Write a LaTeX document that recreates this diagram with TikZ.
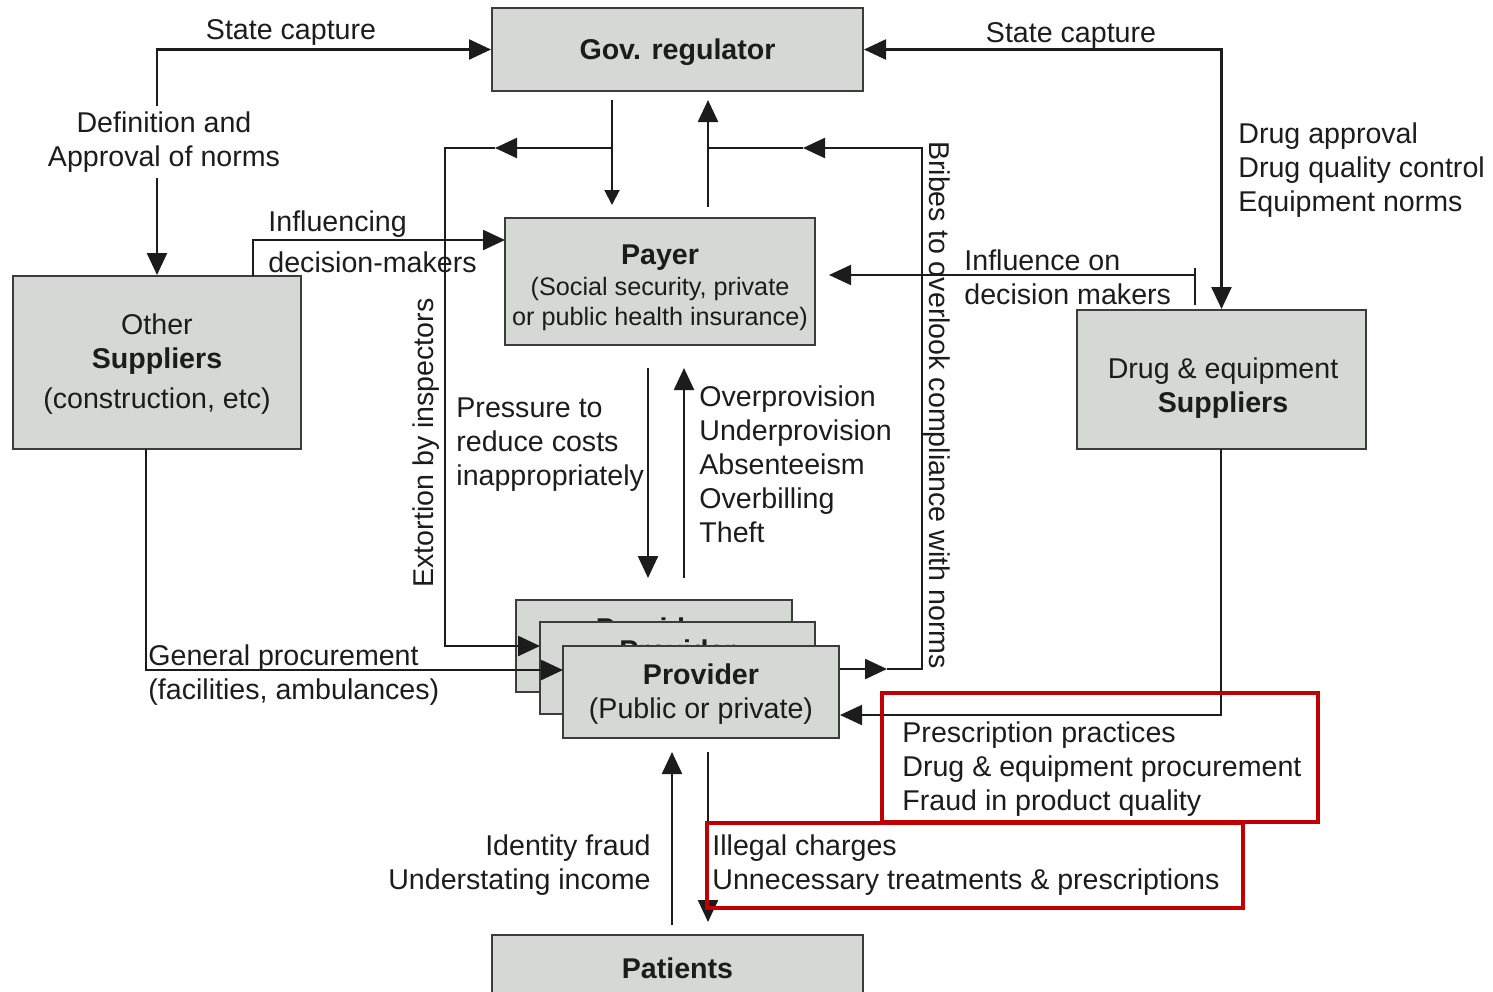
\documentclass[tikz,border=0pt]{standalone}
\usepackage{fontspec}
\setmainfont{Liberation Sans}
\usetikzlibrary{arrows.meta}
\definecolor{boxfill}{RGB}{214,216,213}
\definecolor{boxdraw}{RGB}{60,60,60}
\definecolor{ink}{RGB}{28,28,28}
\definecolor{redline}{RGB}{192,0,0}
\begin{document}
\begin{tikzpicture}[x=0.5pt,y=-0.5pt,
  font=\fontsize{14.3}{17}\selectfont, text=ink,
  box/.style={draw=boxdraw, fill=boxfill, line width=1pt, inner sep=0pt},
  btext/.style={inner sep=0pt, align=center},
  conn/.style={draw=ink, line width=1.2pt},
  tip/.style={-{Triangle[length=11pt,width=10pt]}},
  tiptwo/.style={{Triangle[length=11pt,width=10pt]}-{Triangle[length=11pt,width=10pt]}},
  smalltip/.style={-{Triangle[length=7.5pt,width=7.5pt]}},
  lbl/.style={inner sep=0pt, align=left},
  redbox/.style={draw=redline, line width=2pt}]
\useasboundingbox (0,0) rectangle (1493,991);
\clip (0,0) rectangle (1493,991);

% boxes
\node[box, minimum width=185.5pt, minimum height=41.5pt] (gov) at (677.5,49.5) {};
\node[btext, font={\fontsize{14.3}{17}\selectfont\bfseries}] (govt) at (677.5,52.5) {Gov. regulator};
\node[box, minimum width=155pt, minimum height=63.5pt] (payer) at (660,281.5) {};
\node[btext] (payert) at (660,287.5)
  {\textbf{Payer}\\[-1.5pt]{\fontsize{12.6}{15}\selectfont (Social security, private}\\[-2pt]{\fontsize{12.6}{15}\selectfont or public health insurance)}};
\node[box, minimum width=144pt, minimum height=86.5pt] (other) at (157,362.5) {};
\node[btext] (othert) at (157,364.5) {Other\\\textbf{Suppliers}\\[3pt](construction, etc)};
\node[box, minimum width=144.5pt, minimum height=69.5pt] (drug) at (1221.5,379.5) {};
\node[btext] (drugt) at (1223,388.5) {Drug \& equipment\\\textbf{Suppliers}};
\node[box, minimum width=138pt, minimum height=46pt] (prov3) at (654,646) {};
\node[btext] (prov3t) at (654,648) {\textbf{Provider}\\(Public or private)};
\node[box, minimum width=137.5pt, minimum height=46pt] (prov2) at (677.5,668) {};
\node[btext] (prov2t) at (677.5,670) {\textbf{Provider}\\(Public or private)};
\node[box, minimum width=138pt, minimum height=46pt] (prov1) at (701,692) {};
\node[btext] (prov1t) at (701,694) {\textbf{Provider}\\(Public or private)};
\node[box, minimum width=185.5pt, minimum height=32pt] (pat) at (677.5,967) {};
\node[btext, font={\fontsize{14.3}{17}\selectfont\bfseries}] (patt) at (677.5,968) {Patients};

% coordinates
\coordinate (gd1) at (612,100);
\coordinate (gd2) at (612,205);
\coordinate (ex1) at (612,148);
\coordinate (exm) at (495,148);
\coordinate (ex2) at (445,148);
\coordinate (ex3) at (540,646);
\coordinate (pu1) at (708,207);
\coordinate (pu2) at (708,100);
\coordinate (br0) at (840,669);
\coordinate (brm1) at (887,669);
\coordinate (br1) at (922,669);
\coordinate (br2) at (922,148);
\coordinate (brm2) at (803,148);
\coordinate (br3) at (708,148);
\coordinate (inf1) at (253,276);
\coordinate (inf2) at (505,240);
\coordinate (io0) at (1195,268);
\coordinate (io1) at (1195,305);
\coordinate (io2) at (1195,275);
\coordinate (io3) at (829,275);
\coordinate (pr1) at (648,368);
\coordinate (pr2) at (648,578);
\coordinate (ov1) at (684,578);
\coordinate (ov2) at (684,368);
\coordinate (gp1) at (146,449);
\coordinate (gp2) at (563,670);
\coordinate (dp1) at (1221,449);
\coordinate (dp2) at (840,715);
\coordinate (pa1) at (672,925);
\coordinate (pa2) at (672,752);
\coordinate (pd1) at (708,752);
\coordinate (pd2) at (708,922);

% connectors
\draw[conn, tiptwo] (other.north) |- (gov.west);
\draw[conn, tiptwo] (drug.north) |- (gov.east);
\draw[conn, smalltip, line width=1pt] (gd1) -- (gd2);
\draw[conn, tip] (ex1) -- (exm);
\draw[conn, tip] (exm) -- (ex2) |- (ex3);
\draw[conn, tip] (pu1) -- (pu2);
\draw[conn, tip] (br0) -- (brm1);
\draw[conn, tip] (brm1) -- (br1) -- (br2) -- (brm2);
\draw[conn] (brm2) -- (br3);
\draw[conn, tip] (inf1) |- (inf2);
\draw[conn, line width=1pt] (io0) -- (io1);
\draw[conn, tip, line width=1pt] (io2) -- (io3);
\draw[conn, tip] (pr1) -- (pr2);
\draw[conn, tip] (ov1) -- (ov2);
\draw[conn, tip] (gp1) |- (gp2);
\draw[conn, tip, line width=1pt] (dp1) |- (dp2);
\draw[conn, tip] (pa1) -- (pa2);
\draw[conn, tip] (pd1) -- (pd2);

% labels
\node[lbl, fill=white, align=center, inner xsep=1pt, inner ysep=3pt] (defl) at (164,142) {Definition and\\Approval of norms};
\node[lbl] (sc1) at (291,32) {State capture};
\node[lbl] (sc2) at (1071,35) {State capture};
\node[lbl, anchor=west] (dalbl) at (1238,170) {Drug approval\\Drug quality control\\Equipment norms};
\node[lbl, anchor=west] (inl1) at (268,224) {Influencing};
\node[lbl, anchor=west] (inl2) at (268,262) {decision-makers};
\node[lbl, anchor=west] (iol1) at (964,260) {Influence on};
\node[lbl, anchor=west] (iol2) at (964,294) {decision makers};
\node[lbl, rotate=90] (ext) at (426,443) {Extortion by inspectors};
\node[lbl, rotate=-90] (bri) at (937,405) {Bribes to overlook compliance with norms};
\node[lbl, anchor=west] (prl) at (456,445) {Pressure to\\reduce costs\\inappropriately};
\node[lbl, anchor=west] (ovl) at (699,464) {Overprovision\\Underprovision\\Absenteeism\\Overbilling\\Theft};
\node[lbl, anchor=west] (gpl) at (148,675) {General procurement\\(facilities, ambulances)};
\node[lbl, anchor=west] (dpl) at (902,769) {Prescription practices\\Drug \& equipment procurement\\Fraud in product quality};
\node[lbl, anchor=east, align=right] (pal) at (651,865) {Identity fraud\\Understating income};
\node[lbl, anchor=west] (pdl) at (712,865) {Illegal charges\\Unnecessary treatments \& prescriptions};

% red frames
\draw[redbox] (882,693) rectangle (1318,822);
\draw[redbox] (707,823) rectangle (1243,908);
\end{tikzpicture}
\end{document}
